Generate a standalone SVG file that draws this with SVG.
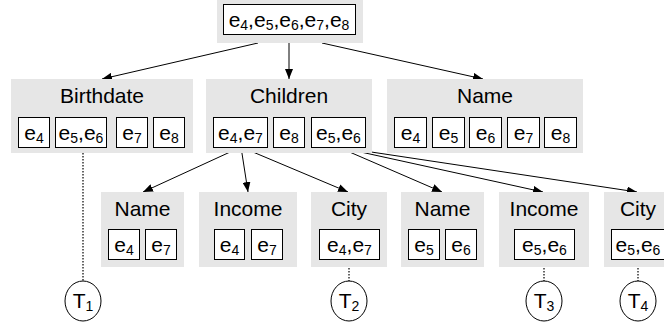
<svg xmlns="http://www.w3.org/2000/svg" width="664" height="332" viewBox="0 0 664 332">
<defs>
<style>
.g{fill:#e6e6e6;stroke:none}
.b{fill:#fff;stroke:#000;stroke-width:1}
.t{font-family:"Liberation Sans",Arial,sans-serif;font-size:21px;fill:#000;text-anchor:middle}
.s{font-size:14px}
.ln{stroke:#000;stroke-width:1;fill:none}
.dt{stroke:#000;stroke-width:1.2;stroke-dasharray:1.5 1.5;fill:none}
.c{fill:#fff;stroke:#000;stroke-width:1}
</style>
<marker id="ah" viewBox="0 0 10 8" refX="10" refY="4" markerWidth="10" markerHeight="8" markerUnits="userSpaceOnUse" orient="auto">
<path d="M0,0 L10,4 L0,8 z" fill="#000"/>
</marker>
</defs>
<rect width="664" height="332" fill="#fff"/>

<g id="connectors">
<line class="ln" x1="258" y1="43" x2="102" y2="79" marker-end="url(#ah)"/>
<line class="ln" x1="289" y1="43" x2="289" y2="79" marker-end="url(#ah)"/>
<line class="ln" x1="322" y1="43" x2="483" y2="79" marker-end="url(#ah)"/>
<line class="ln" x1="241" y1="147" x2="143" y2="192" marker-end="url(#ah)"/>
<line class="ln" x1="241" y1="147" x2="248" y2="192" marker-end="url(#ah)"/>
<line class="ln" x1="241" y1="147" x2="348" y2="192" marker-end="url(#ah)"/>
<line class="ln" x1="338" y1="147" x2="442" y2="192" marker-end="url(#ah)"/>
<line class="ln" x1="338" y1="147" x2="543" y2="192" marker-end="url(#ah)"/>
<line class="ln" x1="338" y1="147" x2="637" y2="192" marker-end="url(#ah)"/>
<line class="dt" x1="83" y1="147" x2="83" y2="281"/>
<line class="dt" x1="349" y1="259" x2="349" y2="281"/>
<line class="dt" x1="544" y1="259" x2="544" y2="281"/>
<line class="dt" x1="638" y1="259" x2="638" y2="281"/>
</g>

<g id="root">
<rect class="g" x="217" y="0" width="146" height="43"/>
<rect class="b" x="223.5" y="4.5" width="132" height="30"/>
<text class="t" x="289" y="27">e<tspan class="s" dy="3">4</tspan><tspan dy="-3">,e</tspan><tspan class="s" dy="3">5</tspan><tspan dy="-3">,e</tspan><tspan class="s" dy="3">6</tspan><tspan dy="-3">,e</tspan><tspan class="s" dy="3">7</tspan><tspan dy="-3">,e</tspan><tspan class="s" dy="3">8</tspan></text>
</g>

<g id="birthdate">
<rect class="g" x="11" y="79" width="182" height="74"/>
<text class="t" x="102" y="103">Birthdate</text>
<rect class="b" x="18.5" y="117.5" width="31" height="30"/>
<text class="t" x="34" y="140">e<tspan class="s" dy="3">4</tspan></text>
<rect class="b" x="55.5" y="117.5" width="51" height="30"/>
<text class="t" x="81" y="140">e<tspan class="s" dy="3">5</tspan><tspan dy="-3">,e</tspan><tspan class="s" dy="3">6</tspan></text>
<rect class="b" x="116.5" y="117.5" width="31" height="30"/>
<text class="t" x="132" y="140">e<tspan class="s" dy="3">7</tspan></text>
<rect class="b" x="153.5" y="117.5" width="31" height="30"/>
<text class="t" x="169" y="140">e<tspan class="s" dy="3">8</tspan></text>
</g>

<g id="children">
<rect class="g" x="206" y="79" width="166" height="74"/>
<text class="t" x="289" y="103">Children</text>
<rect class="b" x="213.5" y="117.5" width="54" height="30"/>
<text class="t" x="240.5" y="140">e<tspan class="s" dy="3">4</tspan><tspan dy="-3">,e</tspan><tspan class="s" dy="3">7</tspan></text>
<rect class="b" x="273.5" y="117.5" width="31" height="30"/>
<text class="t" x="289" y="140">e<tspan class="s" dy="3">8</tspan></text>
<rect class="b" x="311.5" y="117.5" width="54" height="30"/>
<text class="t" x="338.5" y="140">e<tspan class="s" dy="3">5</tspan><tspan dy="-3">,e</tspan><tspan class="s" dy="3">6</tspan></text>
</g>

<g id="name">
<rect class="g" x="387" y="79" width="196" height="74"/>
<text class="t" x="485" y="103">Name</text>
<rect class="b" x="394.5" y="117.5" width="32" height="30"/>
<text class="t" x="410.5" y="140">e<tspan class="s" dy="3">4</tspan></text>
<rect class="b" x="432.5" y="117.5" width="32" height="30"/>
<text class="t" x="448.5" y="140">e<tspan class="s" dy="3">5</tspan></text>
<rect class="b" x="469.5" y="117.5" width="32" height="30"/>
<text class="t" x="485.5" y="140">e<tspan class="s" dy="3">6</tspan></text>
<rect class="b" x="507.5" y="117.5" width="32" height="30"/>
<text class="t" x="523.5" y="140">e<tspan class="s" dy="3">7</tspan></text>
<rect class="b" x="544.5" y="117.5" width="32" height="30"/>
<text class="t" x="560.5" y="140">e<tspan class="s" dy="3">8</tspan></text>
</g>

<g id="name1">
<rect class="g" x="101" y="192" width="83" height="75"/>
<text class="t" x="142.5" y="216">Name</text>
<rect class="b" x="108.5" y="229.5" width="31" height="30"/>
<text class="t" x="124" y="252">e<tspan class="s" dy="3">4</tspan></text>
<rect class="b" x="145.5" y="229.5" width="31" height="30"/>
<text class="t" x="161" y="252">e<tspan class="s" dy="3">7</tspan></text>
</g>

<g id="income1">
<rect class="g" x="199" y="192" width="98" height="75"/>
<text class="t" x="248" y="216">Income</text>
<rect class="b" x="214.5" y="229.5" width="30" height="30"/>
<text class="t" x="229.5" y="252">e<tspan class="s" dy="3">4</tspan></text>
<rect class="b" x="251.5" y="229.5" width="31" height="30"/>
<text class="t" x="267" y="252">e<tspan class="s" dy="3">7</tspan></text>
</g>

<g id="city1">
<rect class="g" x="311" y="192" width="76" height="75"/>
<text class="t" x="349" y="216">City</text>
<rect class="b" x="319.5" y="229.5" width="60" height="30"/>
<text class="t" x="349.5" y="252">e<tspan class="s" dy="3">4</tspan><tspan dy="-3">,e</tspan><tspan class="s" dy="3">7</tspan></text>
</g>

<g id="name2">
<rect class="g" x="401" y="192" width="83" height="75"/>
<text class="t" x="442.5" y="216">Name</text>
<rect class="b" x="408.5" y="229.5" width="31" height="30"/>
<text class="t" x="424" y="252">e<tspan class="s" dy="3">5</tspan></text>
<rect class="b" x="445.5" y="229.5" width="31" height="30"/>
<text class="t" x="461" y="252">e<tspan class="s" dy="3">6</tspan></text>
</g>

<g id="income2">
<rect class="g" x="499" y="192" width="90" height="75"/>
<text class="t" x="544" y="216">Income</text>
<rect class="b" x="514.5" y="229.5" width="60" height="30"/>
<text class="t" x="544.5" y="252">e<tspan class="s" dy="3">5</tspan><tspan dy="-3">,e</tspan><tspan class="s" dy="3">6</tspan></text>
</g>

<g id="city2">
<rect class="g" x="604" y="192" width="76" height="75"/>
<text class="t" x="638" y="216">City</text>
<rect class="b" x="611.5" y="229.5" width="60" height="30"/>
<text class="t" x="638" y="252">e<tspan class="s" dy="3">5</tspan><tspan dy="-3">,e</tspan><tspan class="s" dy="3">6</tspan></text>
</g>

<g id="T1">
<ellipse class="c" cx="83" cy="301" rx="18" ry="20"/>
<text class="t" x="83" y="308">T<tspan class="s" dy="3">1</tspan></text>
</g>
<g id="T2">
<ellipse class="c" cx="349" cy="301" rx="18" ry="20"/>
<text class="t" x="349" y="308">T<tspan class="s" dy="3">2</tspan></text>
</g>
<g id="T3">
<ellipse class="c" cx="544" cy="301" rx="18" ry="20"/>
<text class="t" x="544" y="308">T<tspan class="s" dy="3">3</tspan></text>
</g>
<g id="T4">
<ellipse class="c" cx="638" cy="301" rx="18" ry="20"/>
<text class="t" x="638" y="308">T<tspan class="s" dy="3">4</tspan></text>
</g>
</svg>
